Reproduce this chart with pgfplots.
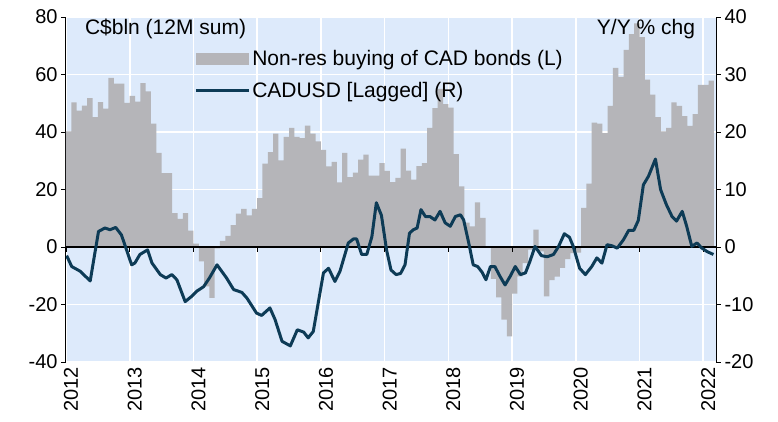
\documentclass[border=0pt]{standalone}
\usepackage{pgfplots}
\pgfplotsset{compat=1.18}
\usepackage{pgfplotstable}
\usepackage{fontspec}
\setmainfont{Liberation Sans}
\definecolor{bgblue}{RGB}{221,234,251}
\definecolor{barc}{RGB}{181,181,185}
\definecolor{navy}{RGB}{13,59,86}

% Non-res buying of CAD bonds, monthly from Jan 2012 (C$bln, 12M sum)
\pgfplotstableread{
v
40.2
50.3
47.4
49.2
51.8
45.2
50.4
48.1
58.8
56.8
56.8
50.1
52.6
50.6
57.0
54.1
42.9
32.7
25.7
25.7
11.8
9.8
11.8
5.7
1.2
-5.0
-13.7
-17.7
-0.5
2.1
3.9
7.6
11.6
13.3
11.0
13.3
17.0
29.0
33.0
39.4
30.1
38.3
41.4
38.3
37.9
42.2
39.4
36.7
33.8
28.0
29.6
22.5
32.7
24.3
25.9
30.4
32.1
24.8
24.8
29.2
26.5
22.6
24.0
34.2
26.6
23.4
28.1
29.2
41.4
48.3
55.0
49.7
48.5
32.3
21.1
8.5
7.2
15.5
10.1
0.0
-11.1
-17.5
-25.3
-31.1
-16.2
-10.2
-5.6
-0.9
6.0
-1.5
-17.2
-11.5
-10.3
-7.3
-4.2
-2.1
-2.0
13.6
22.0
43.3
42.9
39.6
49.1
62.3
59.2
68.6
74.0
77.8
73.0
58.2
53.0
45.2
40.2
41.4
50.3
49.1
45.5
42.1
46.2
56.4
56.4
57.9
}\bars

\begin{document}
\begin{tikzpicture}
\path[use as bounding box] (-66pt,-60pt) rectangle (712pt,362pt);
\begin{axis}[
  at={(0pt,0pt)}, anchor=south west,
  scale only axis, width=650pt, height=345pt,
  xmin=2012, xmax=2022.2, ymin=-40, ymax=80,
  axis background/.style={fill=bgblue},
  axis y line*=left, axis x line*=bottom,
  x axis line style={draw=none},
  y axis line style={black, line width=1pt},
  xtick={2012,2013,2014,2015,2016,2017,2018,2019,2020,2021,2022},
  xticklabels={2012,2013,2014,2015,2016,2017,2018,2019,2020,2021,2022},
  ytick={-40,-20,0,20,40,60,80},
  grid=major, grid style={white, line width=1.6pt},
  ytick align=outside, major tick length=5pt,
  ytick style={black, line width=0.9pt},
  xtick style={draw=none},
  tick label style={font=\fontsize{20}{24}\selectfont},
  /pgf/number format/assume math mode=true,
  xticklabel style={xshift=5pt, yshift=-5pt, rotate=90, anchor=east, inner sep=0pt},
]
\addplot[ybar, bar width=0.0833333, bar shift=0pt, fill=barc, draw=none]
  table[x expr=2012+(\coordindex+0.5)/12, y=v] {\bars};
\node[anchor=west, inner sep=0pt, font=\fontsize{21}{25}\selectfont]
  at (axis description cs:0.029,0.965) {C\$bln (12M sum)};
\node[anchor=east, inner sep=0pt, font=\fontsize{21}{25}\selectfont]
  at (axis description cs:0.968,0.965) {Y/Y \% chg};
\end{axis}
\begin{axis}[
  at={(0pt,0pt)}, anchor=south west,
  scale only axis, width=650pt, height=345pt,
  xmin=2012, xmax=2022.2, ymin=-20, ymax=40,
  axis y line*=right, axis x line=middle,
  x axis line style={-, black, line width=1.3pt},
  y axis line style={black, line width=1pt},
  xtick={2012,2013,2014,2015,2016,2017,2018,2019,2020,2021,2022},
  xticklabels={},
  xtick align=outside, ytick align=outside,
  ytick={-20,-10,0,10,20,30,40},
  major tick length=5pt,
  tick style={black, line width=0.9pt},
  tick label style={font=\fontsize{20}{24}\selectfont},
  /pgf/number format/assume math mode=true,
  legend style={draw=none, fill=none, inner sep=0pt,
    at={(axis description cs:0.197,0.911)}, anchor=north west,
    font=\fontsize{21}{25}\selectfont, row sep=12pt,
    nodes={inner sep=2pt}},
  legend cell align=left,
]
\addlegendimage{legend image code/.code={\fill[barc] (0pt,-5.5pt) rectangle (52pt,5.5pt);}}
\addlegendentry{Non-res buying of CAD bonds (L)}
\addplot[navy, line width=3pt, line join=round,
  legend image code/.code={\draw[navy, line width=3pt] (0pt,0pt) -- (53pt,0pt);}]
coordinates {
(2012.01,-1.5) (2012.09,-3.4) (2012.22,-4.2) (2012.38,-5.9) (2012.51,2.7)
(2012.61,3.3) (2012.69,3.0) (2012.78,3.4) (2012.87,2.1) (2013.03,-3.1)
(2013.08,-2.8) (2013.16,-1.3) (2013.28,-0.5) (2013.35,-2.8) (2013.48,-4.8)
(2013.57,-5.4) (2013.66,-4.8) (2013.74,-5.7) (2013.87,-9.5) (2013.97,-8.6)
(2014.05,-7.7) (2014.16,-6.9) (2014.25,-5.4) (2014.37,-3.1) (2014.52,-5.4)
(2014.63,-7.4) (2014.76,-7.9) (2014.84,-8.9) (2014.99,-11.5) (2015.07,-11.9)
(2015.20,-10.6) (2015.28,-12.6) (2015.39,-16.4) (2015.52,-17.2) (2015.63,-14.4)
(2015.73,-14.8) (2015.80,-15.8) (2015.88,-14.7) (2016.04,-4.5) (2016.12,-3.7)
(2016.22,-6.0) (2016.30,-4.2) (2016.43,0.7) (2016.51,1.4) (2016.56,1.4)
(2016.64,-1.3) (2016.72,-1.3) (2016.80,1.8) (2016.87,7.7) (2016.95,5.5)
(2017.03,-0.5) (2017.10,-4.0) (2017.18,-4.8) (2017.25,-4.6) (2017.32,-3.1)
(2017.39,2.4) (2017.45,3.0) (2017.51,3.3) (2017.57,6.5) (2017.64,5.3)
(2017.71,5.3) (2017.79,4.7) (2017.87,6.2) (2017.95,4.2) (2018.03,3.6)
(2018.11,5.3) (2018.19,5.6) (2018.24,4.7) (2018.32,0.7) (2018.39,-3.1)
(2018.46,-3.4) (2018.53,-4.4) (2018.59,-5.7) (2018.66,-3.4) (2018.73,-3.4)
(2018.81,-5.1) (2018.89,-6.6) (2018.97,-5.1) (2019.05,-3.4) (2019.13,-4.8)
(2019.21,-4.5) (2019.28,-2.5) (2019.36,0.1) (2019.46,-1.5) (2019.55,-1.7)
(2019.65,-1.3) (2019.73,0.1) (2019.82,2.3) (2019.90,1.7) (2019.96,0.1)
(2020.06,-3.7) (2020.15,-4.8) (2020.25,-3.4) (2020.33,-1.9) (2020.41,-2.8)
(2020.49,0.4) (2020.57,0.2) (2020.65,-0.2) (2020.75,1.3) (2020.83,2.9)
(2020.91,2.9) (2020.98,4.6) (2021.06,10.8) (2021.14,12.3) (2021.25,15.3)
(2021.33,10.0) (2021.42,7.4) (2021.51,5.3) (2021.58,4.5) (2021.67,6.2)
(2021.74,3.6) (2021.82,0.1) (2021.90,0.7) (2021.98,-0.2) (2022.06,-0.8)
(2022.16,-1.3)
};
\addlegendentry{CADUSD [Lagged] (R)}
\end{axis}
\end{tikzpicture}
\end{document}
